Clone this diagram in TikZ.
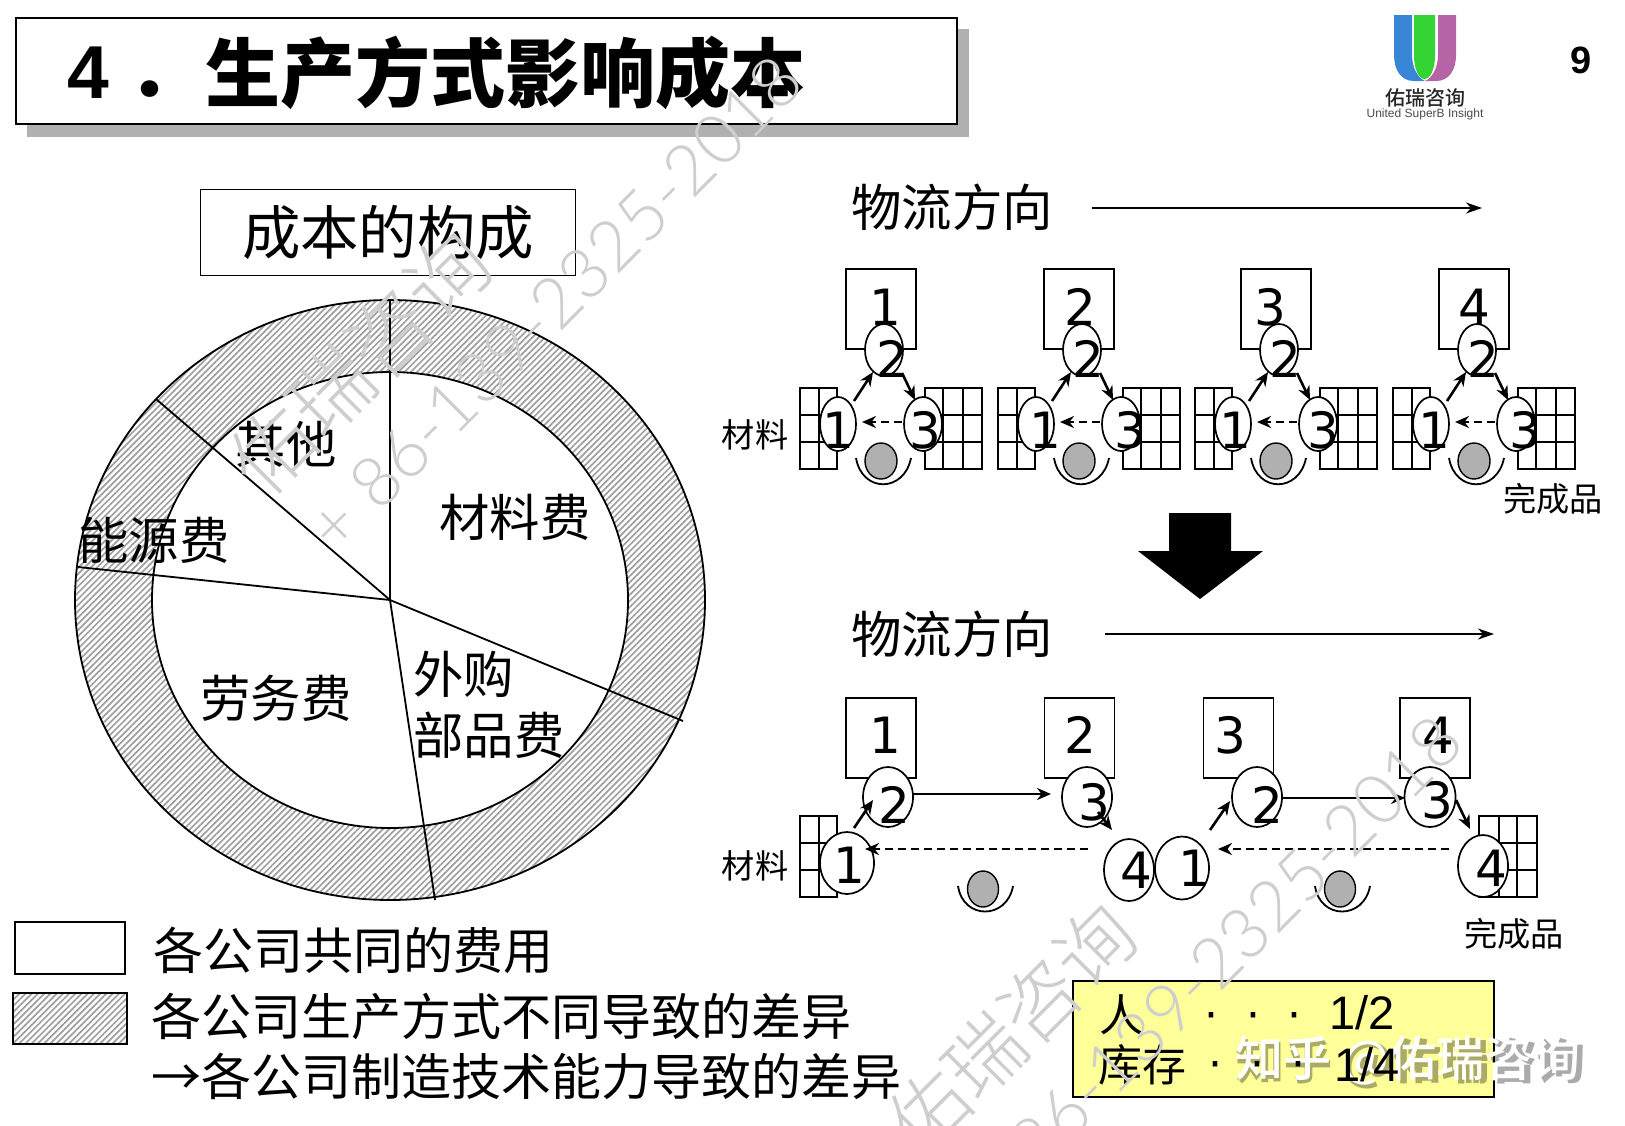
\documentclass[tikz,border=0pt]{standalone}
\usepackage{fontspec}
\usetikzlibrary{arrows.meta,patterns.meta,shapes.geometric}
\setmainfont{Liberation Sans}
\newfontfamily\cjk{Noto Sans CJK SC}
\newfontfamily\cjkk{Noto Sans CJK SC Black}
\newfontfamily\cjkm{Noto Sans CJK SC Medium}
\newfontfamily\wmc{Noto Sans CJK SC Light}
\newfontfamily\wml{Lato Light}
\newfontfamily\numf{DejaVu Sans}
\newcommand{\fsz}[1]{\fontsize{#1}{#1}\selectfont}
\definecolor{wmcol}{HTML}{CECECE}
\definecolor{workergray}{HTML}{B0B0B0}
\definecolor{logoblue}{HTML}{3A86D6}
\definecolor{logogreen}{HTML}{33D433}
\definecolor{logopurple}{HTML}{B565A5}
\tikzset{
  ln/.style={line width=0.9pt,draw=black},
  hatchfill/.style={pattern={Lines[angle=45,distance=2.2pt,line width=0.85pt]},pattern color=gray!75},
  cjkt/.style={font=\cjk\fsz{25.2},inner sep=0pt,text=black},
  legt/.style={font=\cjk\fsz{25},inner sep=0pt,text=black},
  smallt/.style={font=\cjk\fsz{16.6},inner sep=0pt,text=black},
  numt/.style={font=\numf\fsz{25},inner sep=0pt,text=black},
  stn/.style={draw,line width=0.9pt,fill=white,minimum width=35pt,minimum height=40pt,inner sep=0pt},
  eli/.style 2 args={shape=ellipse,draw,line width=0.85pt,fill=white,inner sep=0pt,minimum width=#1 pt,minimum height=#2 pt},
  worker/.style 2 args={shape=ellipse,draw,line width=0.7pt,fill=workergray,inner sep=0pt,minimum width=#1 pt,minimum height=#2 pt},
  arr/.style={line width=1.3pt,-{Stealth[length=7pt,width=6pt]}},
  darr/.style={line width=1.4pt,dash pattern=on 4pt off 2.5pt,-{Stealth[length=7pt,width=6pt]}},
  flow/.style={line width=0.9pt,-{Stealth[length=8pt,width=5.5pt,inset=2.5pt]}},
  wmark/.style={text=wmcol,inner sep=0pt,rotate=45},
}
\begin{document}
\begin{tikzpicture}[x=0.5pt,y=-0.5pt]
\useasboundingbox (0,0) rectangle (1625,1125);
\clip (0,0) rectangle (1625,1125);
\fill[white] (0,0) rectangle (1625,1125);
% title
\fill[workergray] (27,29) rectangle (969,137);
\node[draw,line width=0.9pt,fill=white,minimum width=470.5pt,minimum height=53pt,inner sep=0pt] (titlebox) at (486.5,71) {};
\node[anchor=west,inner sep=0pt,font=\bfseries\fsz{37.5}] (t4) at (67,73) {4};
\node[inner sep=0pt,font=\cjkk\fsz{37.5}] (tdot) at (165,90) {．};
\node[anchor=west,inner sep=0pt,font=\cjkk\fsz{37.5}] (ttl) at (205,73) {生产方式影响成本};
% logo
\fill[logoblue] (1394,15)--(1412,15)--(1412,55) .. controls (1412,68) and (1418,78) .. (1425,81) -- (1414,81) .. controls (1401,81) and (1394,70) .. (1394,55) -- cycle;
\fill[logopurple] (1456,15)--(1438,15)--(1438,55) .. controls (1438,68) and (1432,78) .. (1425,81) -- (1436,81) .. controls (1449,81) and (1456,70) .. (1456,55) -- cycle;
\fill[logogreen] (1414,15)--(1435,15)--(1435,55) .. controls (1435,70) and (1430,79) .. (1424.5,79) .. controls (1419,79) and (1414,70) .. (1414,55) -- cycle;
\node[inner sep=0pt,font=\cjkm\fsz{10},text=black!85] (logocn) at (1425,98) {佑瑞咨询};
\node[inner sep=0pt,font=\fsz{6},text=black!70] (logoen) at (1425,114) {United SuperB Insight};
\node[inner sep=0pt,font=\bfseries\fsz{19}] (pageno) at (1581,60) {9};
% pie
\coordinate (pc) at (390,600);
\path[hatchfill,even odd rule] (pc) ellipse [x radius=315,y radius=300] (pc) ellipse [x radius=238,y radius=228];
\draw[ln] (pc) ellipse [x radius=315,y radius=300];
\draw[ln] (pc) ellipse [x radius=238,y radius=228];
\draw[ln] (pc) -- (390,300);
\draw[ln] (pc) -- (156,399);
\draw[ln] (pc) -- (78,567);
\draw[ln] (pc) -- (435,900);
\draw[ln] (pc) -- (683,721);
\node[draw,line width=0.5pt,fill=white,minimum width=187.5pt,minimum height=43pt,inner sep=0pt] (costbox) at (387.5,232) {};
\node[font=\cjk\fsz{29.2},inner sep=0pt] (costlbl) at (388,232) {成本的构成};
\node[cjkt] (lqt) at (286,444) {其他};
\node[cjkt] (lny) at (154,540) {能源费};
\node[cjkt] (lcl) at (515,517) {材料费};
\node[cjkt] (llw) at (276,698) {劳务费};
\node[cjkt,anchor=west] (lwg) at (413,674) {外购};
\node[cjkt,anchor=west] (lbp) at (413,735) {部品费};
% legend
\node[draw,line width=0.9pt,fill=white,minimum width=55pt,minimum height=26pt,inner sep=0pt] (lega) at (70,948) {};
\node[draw,line width=0.9pt,hatchfill,minimum width=57pt,minimum height=25.5pt,inner sep=0pt] (legb) at (70,1018.5) {};
\node[legt,anchor=west] (legt1) at (153,950) {各公司共同的费用};
\node[legt,anchor=west] (legt2) at (151,1016) {各公司生产方式不同导致的差异};
\node[legt,anchor=west] (legt3) at (151,1076) {→各公司制造技术能力导致的差异};
% flow headings
\node[cjkt] (fl1) at (952,207) {物流方向};
\coordinate (fl1a) at (1092,208); \coordinate (fl1b) at (1482,208);
\draw[flow] (fl1a) -- (fl1b);
\node[cjkt] (fl2) at (952,634) {物流方向};
\coordinate (fl2a) at (1105,634); \coordinate (fl2b) at (1494,634);
\draw[flow] (fl2a) -- (fl2b);
% top cells
\foreach \g/\dx/\t/\tx/\txb/\txc/\txd in {1/0/1/885/892/838/925,2/198/2/1080/1088/1045/1130,3/395/3/1270/1285/1235/1323,4/593/4/1474/1483/1434/1525}{
  \node[stn] (box\g) at (881+\dx,309) {};
  \draw[ln] (800+\dx,388) rectangle (837+\dx,469);
  \draw[ln] (819+\dx,388) -- (819+\dx,469);
  \foreach \yy in {415,442} \draw[ln] (800+\dx,\yy) -- (837+\dx,\yy);
  \draw[ln] (925+\dx,388) rectangle (982+\dx,469);
  \foreach \xx in {943,963} \draw[ln] (\xx+\dx,388) -- (\xx+\dx,469);
  \foreach \yy in {415,442} \draw[ln] (925+\dx,\yy) -- (982+\dx,\yy);
  \node[eli={19}{26}] (p\g) at (884+\dx,350) {};
  \node[eli={18}{27}] (q\g) at (838+\dx,424) {};
  \node[eli={19}{27}] (r\g) at (923+\dx,424) {};
  \draw[arr] ([shift={(16,-23)}]q\g.center) -- ([shift={(-11,22)}]p\g.center);
  \draw[arr] ([shift={(18,23)}]p\g.center) -- ([shift={(-8,-24)}]r\g.center);
  \draw[darr] ([shift={(-21,-2)}]r\g.center) -- ([shift={(24,-2)}]q\g.center);
  \node[worker={16}{18}] (w\g) at (881+\dx,461) {};
  \draw[ln] ([shift={(-25,-3)}]w\g.center) .. controls ([shift={(-19,32)}]w\g.center) and ([shift={(23,32)}]w\g.center) .. ([shift={(30,-3)}]w\g.center);
  \node[numt] (nb\g) at (\tx,307) {\t};
  \node[numt] (np\g) at (\txb,359) {2};
  \node[numt] (nq\g) at (\txc,430) {1};
  \node[numt] (nr\g) at (\txd,430) {3};
}
\node[smallt] (mat1) at (755,435) {材料};
\node[smallt] (fin1) at (1553,499) {完成品};
% big arrow
\fill[black] (1169,513) -- (1231,513) -- (1231,551) -- (1263,551) -- (1200,599) -- (1138,551) -- (1169,551) -- cycle;
% bottom grids
\draw[ln] (800,816) rectangle (837,897);
\draw[ln] (819,816) -- (819,897);
\foreach \yy in {843,870} \draw[ln] (800,\yy) -- (837,\yy);
\draw[ln] (1479,816) rectangle (1537,897);
\foreach \xx in {1499,1517} \draw[ln] (\xx,816) -- (\xx,897);
\foreach \yy in {843,870} \draw[ln] (1479,\yy) -- (1537,\yy);
% bottom stations
\node[stn] (sa) at (881,738) {};
\node[stn] (sb) at (1079.5,738) {};
\node[stn] (sc) at (1238.5,738) {};
\node[stn] (sd) at (1435,738) {};
\node[eli={25}{30}] (e2a) at (888,797) {};
\node[eli={25}{30}] (e3a) at (1087,797) {};
\node[eli={25}{30}] (e2b) at (1257,797) {};
\node[eli={25.5}{30}] (e3b) at (1430,797) {};
\node[eli={27}{31}] (e1a) at (847,863) {};
\node[eli={25}{31}] (e4a) at (1129,870) {};
\node[eli={27}{31.5}] (e1b) at (1182,868) {};
\node[eli={25}{31}] (e4b) at (1483,866) {};
\draw[arr] ([shift={(7,-35)}]e1a.center) -- ([shift={(-15,3)}]e2a.center);
\draw[arr] ([shift={(25,-3)}]e2a.center) -- ([shift={(-36,-3)}]e3a.center);
\draw[arr] ([shift={(11,15)}]e3a.center) -- ([shift={(-17,-40)}]e4a.center);
\draw[darr] ([shift={(-41,-21)}]e4a.center) -- ([shift={(18,-14)}]e1a.center);
\draw[arr] ([shift={(28,-38)}]e1b.center) -- ([shift={(-27,4)}]e2b.center);
\draw[arr] ([shift={(24,1)}]e2b.center) -- ([shift={(-25,1)}]e3b.center);
\draw[arr] ([shift={(26,3)}]e3b.center) -- ([shift={(-13,-37)}]e4b.center);
\draw[darr] ([shift={(-34,-17)}]e4b.center) -- ([shift={(36,-19)}]e1b.center);
\foreach \n/\xx in {a/983,b/1340}{
  \node[worker={15.5}{18}] (wb\n) at (\xx,889) {};
  \draw[ln] ([shift={(-25,-3)}]wb\n.center) .. controls ([shift={(-20,31)}]wb\n.center) and ([shift={(24,31)}]wb\n.center) .. ([shift={(30,-3)}]wb\n.center);
}
\node[numt] (nsa) at (885,735) {1};
\node[numt] (nsb) at (1080,735) {2};
\node[numt] (nsc) at (1230,735) {3};
\node[numt] (nsd) at (1438,735) {4};
\node[numt] (n2a) at (894,805) {2};
\node[numt] (n3a) at (1094,802) {3};
\node[numt] (n2b) at (1267,805) {2};
\node[numt] (n3b) at (1437,800) {3};
\node[numt] (n1a) at (849,865) {1};
\node[numt] (n4a) at (1136,870) {4};
\node[numt] (n1b) at (1194,868) {1};
\node[numt] (n4b) at (1491,868) {4};
\node[smallt] (mat2) at (755,866) {材料};
\node[smallt] (fin2) at (1514,934) {完成品};
% yellow box
\node[draw,line width=0.9pt,fill={rgb,255:red,255;green,255;blue,153},minimum width=210.5pt,minimum height=58pt,inner sep=0pt] (ybox) at (1283.5,1039) {};
\node[font=\cjk\fsz{22},inner sep=0pt] (yr1) at (1121,1015) {人};
\node[font=\numf\fsz{22},inner sep=0pt] (yd1) at (1253,1021) {·\hspace{13.7pt}·\hspace{13.7pt}·};
\node[font=\fsz{23.5},inner sep=0pt] (yf1) at (1362,1013) {1/2};
\node[font=\cjk\fsz{22},inner sep=0pt] (yr2) at (1142,1065) {库存};
% zhihu mark
\node[inner sep=0pt,font=\cjk\bfseries\fsz{24},text=black,text opacity=0.33] (zhs) at (1411,1063) {知乎 @佑瑞咨询};
\node[inner sep=0pt,font=\cjkm\fsz{24},text=white] (zh) at (1408,1060) {知乎 @佑瑞咨询};
\node[font=\numf\fsz{22},inner sep=0pt] (yd2) at (1257,1070) {·\hspace{13.7pt}·\hspace{13.7pt}·};
\node[font=\fsz{23.5},inner sep=0pt] (yf2) at (1367,1065) {1/4};
% watermarks
\node[wmark,font=\wmc\fsz{41}] (wm1) at (360,363) {佑瑞咨询};
\node[wmark,font=\wml\fsz{35},anchor=east] (wm2) at (790,68) {+ 86-139-2325-2018};
\node[wmark,font=\wmc\fsz{39}] (wm3) at (1012,1029) {佑瑞咨询};
\node[wmark,font=\wml\fsz{35},anchor=east] (wm4) at (1450,728) {86-139-2325-2018};
\end{tikzpicture}
\end{document}
